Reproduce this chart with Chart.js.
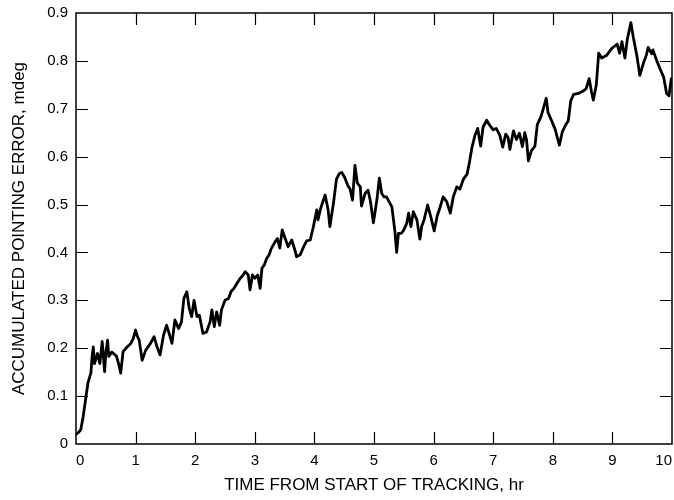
<!DOCTYPE html>
<html>
<head>
<meta charset="utf-8">
<script src="https://cdn.jsdelivr.net/npm/chart.js@4"></script>
<style>
  html, body { margin: 0; padding: 0; background: #ffffff; }
  #wrap { width: 674px; height: 500px; position: relative; }
</style>
</head>
<body>
<div id="wrap"><canvas id="c" width="674" height="500"></canvas></div>
<script>
// ---- data ----
const timeHr = [
  0.00, 0.05, 0.08, 0.12, 0.16, 0.20, 0.23, 0.25, 0.27, 0.29, 0.31, 0.34, 0.36, 0.40, 0.44, 0.48,
  0.50, 0.53, 0.55, 0.60, 0.63, 0.68, 0.72, 0.75, 0.79, 0.86, 0.92, 0.96, 1.00, 1.03, 1.06, 1.11,
  1.17, 1.25, 1.31, 1.36, 1.41, 1.47, 1.52, 1.57, 1.61, 1.66, 1.72, 1.77, 1.81, 1.86, 1.90, 1.94,
  1.98, 2.03, 2.07, 2.13, 2.19, 2.25, 2.28, 2.32, 2.36, 2.41, 2.44, 2.50, 2.56, 2.60, 2.65, 2.70,
  2.75, 2.80, 2.84, 2.89, 2.92, 2.96, 3.00, 3.05, 3.09, 3.12, 3.16, 3.20, 3.24, 3.28, 3.34, 3.38,
  3.42, 3.46, 3.51, 3.56, 3.62, 3.68, 3.70, 3.76, 3.82, 3.87, 3.93, 3.98, 4.04, 4.06, 4.10, 4.15,
  4.18, 4.23, 4.26, 4.32, 4.37, 4.42, 4.46, 4.51, 4.56, 4.60, 4.64, 4.68, 4.72, 4.77, 4.79, 4.85,
  4.90, 4.94, 4.99, 5.05, 5.09, 5.13, 5.17, 5.21, 5.27, 5.30, 5.35, 5.38, 5.41, 5.46, 5.50, 5.55,
  5.58, 5.62, 5.66, 5.72, 5.77, 5.80, 5.84, 5.90, 5.95, 6.01, 6.06, 6.11, 6.16, 6.22, 6.28, 6.33,
  6.39, 6.44, 6.50, 6.56, 6.60, 6.64, 6.69, 6.74, 6.79, 6.83, 6.89, 6.94, 7.00, 7.05, 7.11, 7.16,
  7.21, 7.25, 7.28, 7.34, 7.39, 7.44, 7.49, 7.53, 7.56, 7.59, 7.64, 7.70, 7.74, 7.80, 7.84, 7.89,
  7.92, 7.97, 8.04, 8.11, 8.16, 8.21, 8.26, 8.30, 8.35, 8.43, 8.51, 8.56, 8.61, 8.65, 8.68, 8.73,
  8.77, 8.82, 8.90, 8.99, 9.03, 9.08, 9.12, 9.16, 9.21, 9.25, 9.31, 9.35, 9.41, 9.46, 9.52, 9.57,
  9.60, 9.66, 9.68, 9.74, 9.80, 9.86, 9.91, 9.95, 9.99
];
const errorMdeg = [
  0.020, 0.025, 0.030, 0.057, 0.092, 0.127, 0.140, 0.148, 0.182, 0.203, 0.168, 0.180, 0.189, 0.168, 0.214, 0.151,
  0.190, 0.217, 0.183, 0.192, 0.189, 0.183, 0.165, 0.148, 0.193, 0.203, 0.210, 0.220, 0.238, 0.225, 0.217, 0.175,
  0.196, 0.210, 0.224, 0.203, 0.186, 0.228, 0.248, 0.228, 0.210, 0.259, 0.241, 0.255, 0.304, 0.318, 0.283, 0.266,
  0.300, 0.266, 0.269, 0.231, 0.234, 0.255, 0.280, 0.245, 0.276, 0.248, 0.280, 0.300, 0.304, 0.318, 0.325, 0.335,
  0.345, 0.352, 0.360, 0.353, 0.322, 0.353, 0.346, 0.353, 0.325, 0.367, 0.374, 0.388, 0.395, 0.409, 0.422, 0.429,
  0.409, 0.447, 0.429, 0.412, 0.426, 0.402, 0.391, 0.395, 0.412, 0.424, 0.426, 0.452, 0.489, 0.468, 0.490, 0.509,
  0.520, 0.489, 0.454, 0.503, 0.553, 0.565, 0.567, 0.556, 0.540, 0.532, 0.509, 0.582, 0.545, 0.537, 0.497, 0.523,
  0.530, 0.507, 0.462, 0.511, 0.555, 0.523, 0.516, 0.516, 0.502, 0.495, 0.445, 0.400, 0.440, 0.440, 0.447, 0.461,
  0.482, 0.454, 0.485, 0.468, 0.428, 0.454, 0.468, 0.499, 0.476, 0.445, 0.476, 0.495, 0.516, 0.506, 0.482, 0.516,
  0.537, 0.532, 0.553, 0.563, 0.587, 0.617, 0.643, 0.659, 0.622, 0.662, 0.676, 0.666, 0.656, 0.659, 0.645, 0.620,
  0.647, 0.640, 0.615, 0.654, 0.636, 0.649, 0.621, 0.650, 0.635, 0.591, 0.612, 0.622, 0.667, 0.683, 0.700, 0.722,
  0.692, 0.678, 0.657, 0.624, 0.652, 0.665, 0.675, 0.716, 0.730, 0.732, 0.737, 0.742, 0.763, 0.735, 0.718, 0.750,
  0.816, 0.806, 0.811, 0.826, 0.830, 0.835, 0.816, 0.840, 0.806, 0.845, 0.880, 0.850, 0.811, 0.770, 0.795, 0.812,
  0.828, 0.815, 0.823, 0.802, 0.783, 0.766, 0.732, 0.727, 0.765
];
const xTickValues = [0, 1, 2, 3, 4, 5, 6, 7, 8, 9, 10];
const yTickValues = [0, 0.1, 0.2, 0.3, 0.4, 0.5, 0.6, 0.7, 0.8, 0.9];
const yTickLabels = ['0', '0.1', '0.2', '0.3', '0.4', '0.5', '0.6', '0.7', '0.8', '0.9'];
const xTitle = 'TIME FROM START OF TRACKING, hr';
const yTitle = 'ACCUMULATED POINTING ERROR, mdeg';

const points = timeHr.map((t, i) => ({ x: t, y: errorMdeg[i] }));
const FONT = "'Liberation Sans', Arial, Helvetica, sans-serif";

// frame + inward tick marks drawn from the scales
const frameTicks = {
  id: 'frameTicks',
  afterDatasetsDraw(chart) {
    const { ctx, chartArea: a, scales: { x, y } } = chart;
    ctx.save();
    ctx.strokeStyle = '#000';
    ctx.lineWidth = 1.5;
    ctx.strokeRect(a.left, a.top, a.right - a.left, a.bottom - a.top);
    ctx.lineWidth = 1.2;
    const L = 12;
    ctx.beginPath();
    xTickValues.slice(1, -1).forEach(v => {
      const px = Math.round(x.getPixelForValue(v)) + 0.5;
      ctx.moveTo(px, a.bottom); ctx.lineTo(px, a.bottom - L);
      ctx.moveTo(px, a.top); ctx.lineTo(px, a.top + L);
    });
    yTickValues.slice(1, -1).forEach(v => {
      const py = Math.round(y.getPixelForValue(v)) + 0.5;
      ctx.moveTo(a.left, py); ctx.lineTo(a.left + L, py);
      ctx.moveTo(a.right, py); ctx.lineTo(a.right - L, py);
    });
    ctx.stroke();
    ctx.restore();
  }
};

new Chart(document.getElementById('c'), {
  type: 'line',
  data: {
    datasets: [{
      data: points,
      borderColor: '#000',
      borderWidth: 2.8,
      pointRadius: 0,
      tension: 0,
      fill: false,
      borderJoinStyle: 'round'
    }]
  },
  options: {
    responsive: false,
    animation: false,
    events: [],
    layout: { autoPadding: false, padding: { top: 13, right: 2, left: 0, bottom: 0 } },
    plugins: { legend: { display: false }, tooltip: { enabled: false } },
    scales: {
      x: {
        type: 'linear',
        min: 0, max: 10,
        afterBuildTicks(s) { s.ticks = xTickValues.map(v => ({ value: v })); },
        afterFit(s) { s.height = 56; s.paddingLeft = 0; s.paddingRight = 0; },
        grid: { display: false, drawTicks: false },
        border: { display: false },
        ticks: {
          align: 'inner',
          padding: 8,
          color: '#000',
          font: { family: FONT, size: 15 },
          maxRotation: 0,
          callback: v => String(v)
        },
        title: {
          display: true, text: xTitle, color: '#000',
          font: { family: FONT, size: 17 },
          padding: { top: 0, bottom: 4 }
        }
      },
      y: {
        type: 'linear',
        min: 0, max: 0.9,
        afterBuildTicks(s) { s.ticks = yTickValues.map(v => ({ value: v })); },
        afterFit(s) { s.width = 76; s.paddingTop = 0; s.paddingBottom = 0; },
        grid: { display: false, drawTicks: false },
        border: { display: false },
        ticks: {
          padding: 8,
          color: '#000',
          font: { family: FONT, size: 15 },
          callback: (v, i) => yTickLabels[i]
        },
        title: {
          display: true, text: yTitle, color: '#000',
          font: { family: FONT, size: 17 },
          padding: { top: 9, bottom: 0 }
        }
      }
    }
  },
  plugins: [frameTicks]
});
</script>
</body>
</html>
